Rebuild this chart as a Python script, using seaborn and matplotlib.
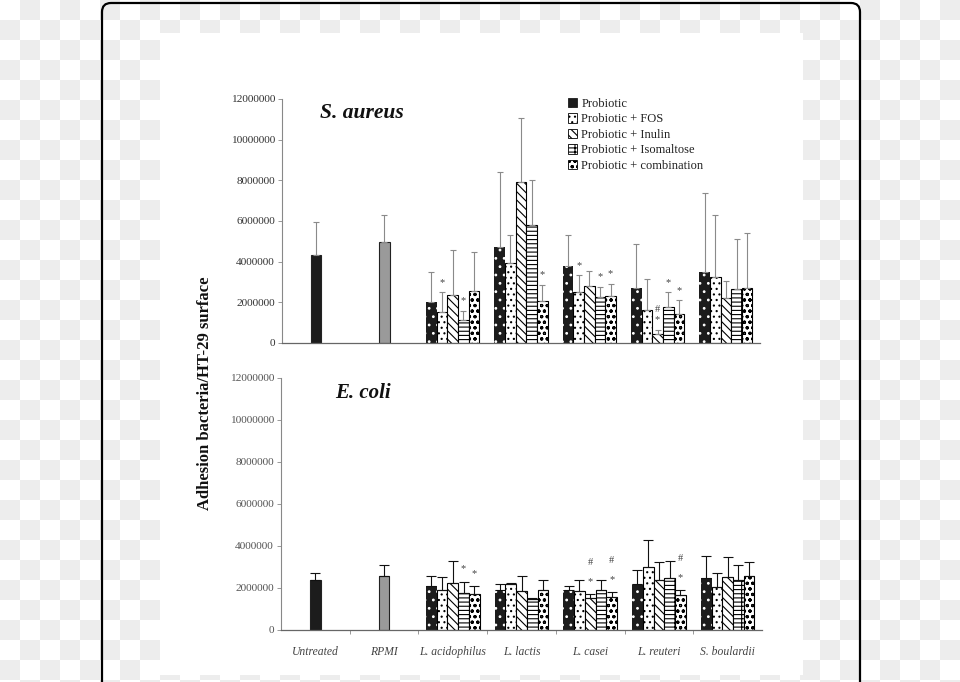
import numpy as np
import pandas as pd
import matplotlib
matplotlib.use("Agg")
import matplotlib.pyplot as plt
import seaborn as sns
from matplotlib.patches import Patch, FancyBboxPatch
from matplotlib.transforms import IdentityTransform
from matplotlib.container import BarContainer

# ---------------- data (values in millions of bacteria) ----------------
categories = ["Untreated", "RPMI", "L. acidophilus", "L. lactis", "L. casei", "L. reuteri", "S. boulardii"]
controls = ["Untreated", "RPMI"]
probiotics = ["L. acidophilus", "L. lactis", "L. casei", "L. reuteri", "S. boulardii"]
treatments = ["Probiotic", "Probiotic + FOS", "Probiotic + Inulin",
              "Probiotic + Isomaltose", "Probiotic + combination"]

# S. aureus
sa_ctrl = [4.33, 4.95]
sa_ctrl_sd = [1.64, 1.33]
sa_probiotic = [2.02, 4.74, 3.79, 2.72, 3.51]
sa_probiotic_sd = [1.49, 3.65, 1.51, 2.13, 3.85]
sa_fos = [1.51, 3.95, 2.51, 1.62, 3.25]
sa_fos_sd = [0.98, 1.36, 0.82, 1.51, 3.05]
sa_inulin = [2.35, 7.90, 2.80, 0.44, 2.20]
sa_inulin_sd = [2.22, 3.15, 0.76, 0.20, 0.83]
sa_isomaltose = [1.12, 5.80, 2.28, 1.76, 2.64]
sa_isomaltose_sd = [0.47, 2.22, 0.49, 0.73, 2.46]
sa_combination = [2.54, 2.08, 2.31, 1.41, 2.72]
sa_combination_sd = [1.92, 0.79, 0.58, 0.69, 2.68]

# E. coli
ec_ctrl = [2.35, 2.54]
ec_ctrl_sd = [0.32, 0.51]
ec_probiotic = [2.06, 1.87, 1.87, 2.16, 2.44]
ec_probiotic_sd = [0.49, 0.29, 0.18, 0.66, 1.08]
ec_fos = [1.90, 2.19, 1.82, 3.00, 2.03]
ec_fos_sd = [0.58, 0.03, 0.53, 1.24, 0.64]
ec_inulin = [2.22, 1.82, 1.49, 2.35, 2.50]
ec_inulin_sd = [1.06, 0.72, 0.19, 0.85, 0.96]
ec_isomaltose = [1.76, 1.43, 1.87, 2.43, 2.38]
ec_isomaltose_sd = [0.52, 0.06, 0.48, 0.81, 0.67]
ec_combination = [1.67, 1.87, 1.54, 1.62, 2.54]
ec_combination_sd = [0.38, 0.48, 0.24, 0.25, 0.68]

sa_marks = [("L. acidophilus", "Probiotic + FOS", "*"),
            ("L. acidophilus", "Probiotic + Isomaltose", "*"),
            ("L. lactis", "Probiotic + combination", "*"),
            ("L. casei", "Probiotic + FOS", "*"),
            ("L. casei", "Probiotic + Isomaltose", "*"),
            ("L. casei", "Probiotic + combination", "*"),
            ("L. reuteri", "Probiotic + Inulin", "*"),
            ("L. reuteri", "Probiotic + Inulin", "#"),
            ("L. reuteri", "Probiotic + Isomaltose", "*"),
            ("L. reuteri", "Probiotic + combination", "*")]
ec_marks = [("L. acidophilus", "Probiotic + Isomaltose", "*"),
            ("L. acidophilus", "Probiotic + combination", "*"),
            ("L. casei", "Probiotic + Inulin", "*"),
            ("L. casei", "Probiotic + Inulin", "#"),
            ("L. casei", "Probiotic + combination", "*"),
            ("L. casei", "Probiotic + combination", "#"),
            ("L. reuteri", "Probiotic + combination", "*"),
            ("L. reuteri", "Probiotic + combination", "#")]

UNIT = 1e6

# ---------------- style ----------------
sns.set_theme(style="white")
plt.rcParams["font.family"] = ["Liberation Serif", "DejaVu Serif"]
plt.rcParams["hatch.linewidth"] = 0.8

styles = {
    "Probiotic": dict(fc="#1c1c1c", ec="white", hatch="..", lw=0),
    "Probiotic + FOS": dict(fc="white", ec="black", hatch="...", lw=0.8),
    "Probiotic + Inulin": dict(fc="white", ec="black", hatch="\\\\\\\\", lw=0.8),
    "Probiotic + Isomaltose": dict(fc="white", ec="black", hatch="----|", lw=0.8),
    "Probiotic + combination": dict(fc="white", ec="black", hatch="ooo", lw=0.8),
}

fig = plt.figure(figsize=(9.6, 6.82), dpi=100)

# background: checkerboard with a white panel and a rounded frame
H, W = 682, 960
yy, xx = np.mgrid[0:H, 0:W]
bg = np.where(((xx // 20) + (yy // 20)) % 2 == 1, 0.933, 1.0)
bg[33:675, 160:803] = 1.0
fig.figimage(np.dstack([bg, bg, bg]), origin="upper", zorder=-10)
frame = FancyBboxPatch((102, -30), 758, 709, boxstyle="round,pad=0,rounding_size=9",
                       transform=IdentityTransform(), fill=False, ec="black", lw=1.6)
fig.add_artist(frame)


def build_df(groups, ctrl):
    rows = []
    for t, vals in zip(treatments, groups):
        for c, v in zip(probiotics, vals):
            rows.append({"cat": c, "treat": t, "val": v * UNIT})
    dfg = pd.DataFrame(rows)
    dfc = pd.DataFrame({"cat": controls, "val": [v * UNIT for v in ctrl]})
    return dfg, dfc


def draw_panel(ax, groups, sds, ctrl, ctrl_sd, marks, ecolor, capsize, mark_base, mark_step, tick_color):
    dfg, dfc = build_df(groups, ctrl)
    sns.barplot(data=dfg, x="cat", y="val", hue="treat", order=categories, hue_order=treatments,
                width=0.78, errorbar=None, legend=False, ax=ax, palette=["white"] * 5,
                edgecolor="black", linewidth=0.8)
    group_conts = [c for c in ax.containers if isinstance(c, BarContainer)]
    sns.barplot(data=dfc, x="cat", y="val", hue="cat", order=categories, hue_order=controls,
                width=0.15, errorbar=None, legend=False, ax=ax, dodge=False,
                palette=["#1c1c1c", "#9a9a9a"], edgecolor="#222222", linewidth=0.8)
    ctrl_conts = [c for c in ax.containers if isinstance(c, BarContainer) and c not in group_conts]

    top_lookup = {}
    for ti, cont in enumerate(group_conts):
        t = treatments[ti]
        st = styles[t]
        for bar in cont:
            if bar is None:
                continue
            cx = bar.get_x() + bar.get_width() / 2
            cat = categories[int(round(cx))]
            if cat not in probiotics:
                continue
            bar.set_facecolor(st["fc"])
            bar.set_edgecolor(st["ec"])
            bar.set_hatch(st["hatch"])
            bar.set_linewidth(st["lw"])
            sd = sds[ti][probiotics.index(cat)] * UNIT
            h = bar.get_height()
            ax.errorbar([cx], [h], yerr=[[0], [sd]], fmt="none", ecolor=ecolor,
                        elinewidth=0.8, capsize=capsize, capthick=0.8, zorder=3)
            top_lookup[(cat, t)] = (cx, h + sd)
    for cont in ctrl_conts:
        for bar in cont:
            if bar is None:
                continue
            cx = bar.get_x() + bar.get_width() / 2
            cat = categories[int(round(cx))]
            if cat not in controls:
                continue
            sd = ctrl_sd[controls.index(cat)] * UNIT
            ax.errorbar([cx], [bar.get_height()], yerr=[[0], [sd]], fmt="none", ecolor=ecolor,
                        elinewidth=0.8, capsize=capsize, capthick=0.8, zorder=3)

    counts = {}
    for cat, t, sym in marks:
        cx, top = top_lookup[(cat, t)]
        k = counts.get((cat, t), 0)
        counts[(cat, t)] = k + 1
        ax.text(cx, top + (mark_base + k * mark_step) * UNIT, sym, ha="center", va="center",
                fontsize=7.5, color="#444444")

    ax.set_xlim(-0.5, 6.5)
    ax.set_ylim(0, 12 * UNIT)
    ax.set_yticks(np.arange(0, 12.01, 2) * UNIT)
    ax.set_yticklabels([f"{int(v * UNIT)}" for v in np.arange(0, 12.01, 2)])
    ax.set_xlabel("")
    ax.set_ylabel("")
    ax.set_facecolor("none")
    for s in ["top", "right"]:
        ax.spines[s].set_visible(False)
    ax.spines["left"].set_color("#888888")
    ax.spines["bottom"].set_color("#666666")
    ax.spines["left"].set_linewidth(0.8)
    ax.spines["bottom"].set_linewidth(0.9)
    ax.tick_params(axis="y", left=True, length=3, width=0.6, color="#888888",
                   labelsize=8.2, labelcolor=tick_color, pad=2)


ax1 = fig.add_axes([282 / 960, 1 - 343 / 682, 478 / 960, 244 / 682])
ax2 = fig.add_axes([281 / 960, 1 - 629.5 / 682, 481 / 960, 252 / 682])

sa_groups = [sa_probiotic, sa_fos, sa_inulin, sa_isomaltose, sa_combination]
sa_sds = [sa_probiotic_sd, sa_fos_sd, sa_inulin_sd, sa_isomaltose_sd, sa_combination_sd]
ec_groups = [ec_probiotic, ec_fos, ec_inulin, ec_isomaltose, ec_combination]
ec_sds = [ec_probiotic_sd, ec_fos_sd, ec_inulin_sd, ec_isomaltose_sd, ec_combination_sd]

draw_panel(ax1, sa_groups, sa_sds, sa_ctrl, sa_ctrl_sd, sa_marks, "#8a8a8a", 2.5, 0.5, 0.5, "#333333")
draw_panel(ax2, ec_groups, ec_sds, ec_ctrl, ec_ctrl_sd, ec_marks, "#111111", 3.5, 0.6, 0.9, "#555555")

ax1.set_xticks([])
ax2.set_xticks(range(len(categories)))
ax2.set_xticklabels(categories, fontstyle="italic", fontsize=8.4, color="#444444")
ax2.tick_params(axis="x", bottom=False, pad=6)
ax2.set_xticks(np.arange(0.5, 6, 1), minor=True)
ax2.tick_params(axis="x", which="minor", bottom=True, length=3, width=0.6, color="#888888")

ax1.text(0.079, 0.943, "S. aureus", transform=ax1.transAxes, fontsize=15.5,
         fontweight="bold", fontstyle="italic", va="center", ha="left", color="#111111")
ax2.text(0.113, 0.938, "E. coli", transform=ax2.transAxes, fontsize=15,
         fontweight="bold", fontstyle="italic", va="center", ha="left", color="#111111")

handles = [Patch(facecolor=styles[t]["fc"], edgecolor=styles[t]["ec"] if t != "Probiotic" else "#1c1c1c",
                 hatch=styles[t]["hatch"], linewidth=0.6) for t in treatments]
leg = ax1.legend(handles, treatments, loc="upper left", bbox_to_anchor=(0.588, 1.025),
                 frameon=False, fontsize=9, handlelength=0.75, handleheight=0.75,
                 handletextpad=0.3, labelspacing=0.28, borderaxespad=0)
for txt in leg.get_texts():
    txt.set_color("#222222")

fig.text(205 / 960, 1 - 393 / 682, "Adhesion bacteria/HT-29 surface", rotation=90,
         ha="center", va="center", fontsize=12, fontweight="bold", color="#111111")

fig.savefig("out.png", dpi=100)
